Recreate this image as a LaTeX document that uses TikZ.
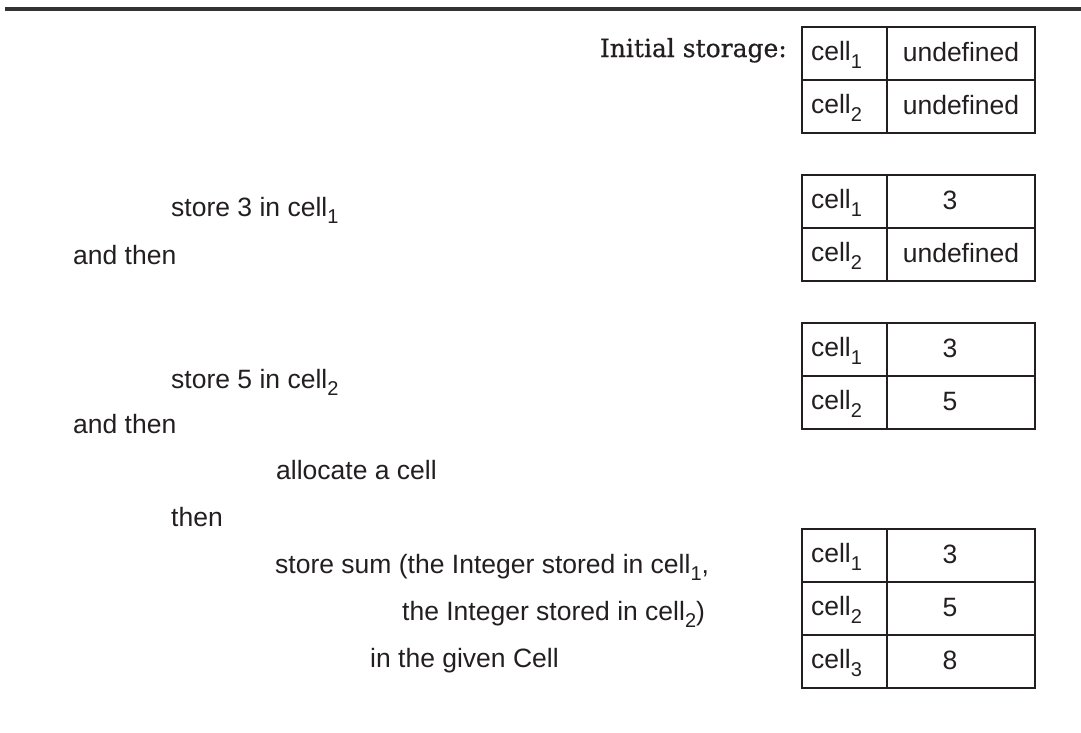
\documentclass[tikz,border=0pt]{standalone}
\usepackage{fontspec}
\setmainfont{Liberation Sans}
\newfontfamily\headserif[FakeBold=0.7]{DejaVu Serif}
\definecolor{ink}{HTML}{231F20}
\definecolor{rulegray}{HTML}{333333}
% subscript index for cell names
\newcommand\cellidx[1]{\raisebox{-7.5pt}{\fontsize{20}{20}\selectfont #1}}
\newcommand\bodyfont{\fontsize{26.5}{30}\selectfont}
\begin{document}
\begin{tikzpicture}[x=1pt,y=-1pt,
  box/.style={draw=ink, line width=2.3pt, minimum height=53pt, inner sep=0pt},
  keybox/.style={box, minimum width=85pt},
  valbox/.style={box, minimum width=148pt},
  celltxt/.style={inner sep=0pt, text height=19pt, text depth=7pt, font=\bodyfont, text=ink},
  stmt/.style={anchor=base west, inner sep=0pt, font=\bodyfont, text=ink},
]
\useasboundingbox (0,0) rectangle (1081,732);

% heading rule
\draw[line width=3.5pt, rulegray] (5,9) -- (1081,9);

% caption of the first table
\node[anchor=base east, inner sep=0pt, font=\headserif\fontsize{25}{30}\selectfont, text=ink]
  (init) at (787,57) {Initial storage:};

% ---- storage tables: key column and value column ----
% table 1
\node[keybox] (a1k) at (844.5,53.5) {};
\node[valbox] (a1v) at (961,53.5) {};
\node[keybox] (a2k) at (844.5,106.5) {};
\node[valbox] (a2v) at (961,106.5) {};
% table 2
\node[keybox] (b1k) at (844.5,201.5) {};
\node[valbox] (b1v) at (961,201.5) {};
\node[keybox] (b2k) at (844.5,254.5) {};
\node[valbox] (b2v) at (961,254.5) {};
% table 3
\node[keybox] (c1k) at (844.5,349.5) {};
\node[valbox] (c1v) at (961,349.5) {};
\node[keybox] (c2k) at (844.5,402.5) {};
\node[valbox] (c2v) at (961,402.5) {};
% table 4
\node[keybox] (d1k) at (844.5,555.5) {};
\node[valbox] (d1v) at (961,555.5) {};
\node[keybox] (d2k) at (844.5,608.5) {};
\node[valbox] (d2v) at (961,608.5) {};
\node[keybox] (d3k) at (844.5,661.5) {};
\node[valbox] (d3v) at (961,661.5) {};

% cell names
\foreach \r/\i in {a1/1,a2/2,b1/1,b2/2,c1/1,c2/2,d1/1,d2/2,d3/3}
  \node[celltxt, anchor=west, xshift=10pt, yshift=-1pt] (\r t) at (\r k.west) {cell\cellidx{\i}};

% cell contents
\node[celltxt, yshift=-2pt] (a1x) at (a1v.center) {undefined};
\node[celltxt, yshift=-2pt] (a2x) at (a2v.center) {undefined};
\node[celltxt, xshift=-11pt, yshift=-2pt] (b1x) at (b1v.center) {3};
\node[celltxt, yshift=-2pt] (b2x) at (b2v.center) {undefined};
\node[celltxt, xshift=-11pt, yshift=-2pt] (c1x) at (c1v.center) {3};
\node[celltxt, xshift=-11pt, yshift=-2pt] (c2x) at (c2v.center) {5};
\node[celltxt, xshift=-11pt, yshift=-2pt] (d1x) at (d1v.center) {3};
\node[celltxt, xshift=-11pt, yshift=-2pt] (d2x) at (d2v.center) {5};
\node[celltxt, xshift=-11pt, yshift=-2pt] (d3x) at (d3v.center) {8};

% ---- program text ----
\node[stmt] (s1) at (171,216) {store 3 in cell\cellidx{1}};
\node[stmt] (s2) at (73,264) {and then};
\node[stmt] (s3) at (171,388) {store 5 in cell\cellidx{2}};
\node[stmt] (s4) at (73,433) {and then};
\node[stmt] (s5) at (276,479) {allocate a cell};
\node[stmt] (s6) at (171,526) {then};
\node[stmt] (s7) at (275,573) {store sum (the Integer stored in cell\cellidx{1},};
\node[stmt] (s8) at (402,620) {the Integer stored in cell\cellidx{2})};
\node[stmt] (s9) at (370,667) {in the given Cell};
\end{tikzpicture}
\end{document}
